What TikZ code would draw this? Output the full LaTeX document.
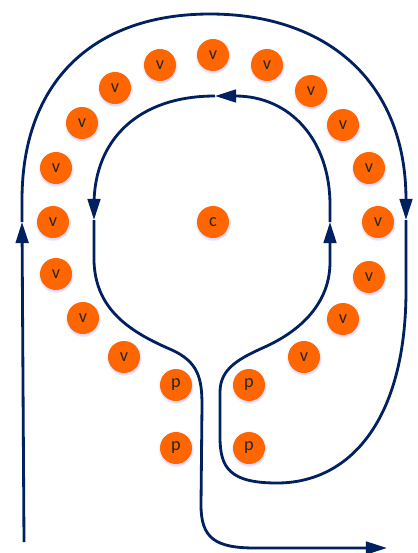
\documentclass[tikz,border=0pt]{standalone}
\usepackage{fontspec}
\setmainfont{Carlito}
\usetikzlibrary{arrows.meta,shadows}
\definecolor{navy}{RGB}{0,32,96}
\definecolor{ball}{RGB}{255,102,0}
\tikzset{
	atom/.style={circle, fill=ball, minimum size=0.8cm, inner sep=0pt,
			text=black!85, font=\fontsize{13}{15}\selectfont,
			circular drop shadow={fill=blue!60, opacity=0.25, shadow xshift=0pt,
					shadow yshift=-0.8pt, shadow scale=1.12}},
	flow/.style={draw=navy, line width=2pt, -{Triangle[length=15pt,width=9pt]}}
}

\begin{document}
\begin{tikzpicture}[x=0.025cm, y=-0.025cm]
		\useasboundingbox (0,0) rectangle (418,553);
		
		% particles
		\foreach \n/\x/\y in {1/124/357, 2/83/318, 3/56/274, 4/53/222, 5/56/168,
				6/82/123, 7/115/88, 8/160/65, 9/213/55, 10/267/65, 11/311/91,
				12/343/125, 13/369/168, 14/378/222, 15/369/277, 16/343/319, 17/304/357}
			\node[atom] (v\n) at (\x,\y) {v};
		\node[atom] (c) at (213,222) {c};
		\node[atom] (p1) at (176,385) {p};
		\node[atom] (p2) at (249,385) {p};
		\node[atom] (p3) at (176,448) {p};
		\node[atom] (p4) at (249,448) {p};
		
		% path of the flow
		\coordinate (s) at (24,542);
		\coordinate (a1) at (22,222);
		\coordinate (a2) at (406,220);
		\coordinate (a3) at (330,222);
		\coordinate (a4) at (215,96);
		\coordinate (a5) at (94,220);
		\coordinate (e) at (387,548);
		
		\draw[flow] (s) -- (a1);
		\draw[flow] (a1) -- (22,200) .. controls (22,80) and (95,14) .. (210,14)
			.. controls (325,14) and (406,80) .. (406,200) -- (a2);
		\draw[flow] (a2) -- (406,290) .. controls (406,420) and (350,483) .. (277,483)
			.. controls (230,483) and (220,468) .. (220,437) -- (220,392)
			.. controls (220,368) and (240,358) .. (267,346)
			.. controls (305,328) and (330,300) .. (330,262) -- (a3);
		\draw[flow] (a3) -- (330,205) .. controls (330,140) and (290,96) .. (a4);
		\draw[flow] (a4) .. controls (138,96) and (94,140) .. (94,205) -- (a5);
		\draw[flow] (a5) -- (94,262) .. controls (96,310) and (130,332) .. (172,350)
			.. controls (198,362) and (202,378) .. (202,405) -- (201,505)
			.. controls (201,538) and (215,548) .. (255,548) -- (e);
	\end{tikzpicture}
\end{document}
